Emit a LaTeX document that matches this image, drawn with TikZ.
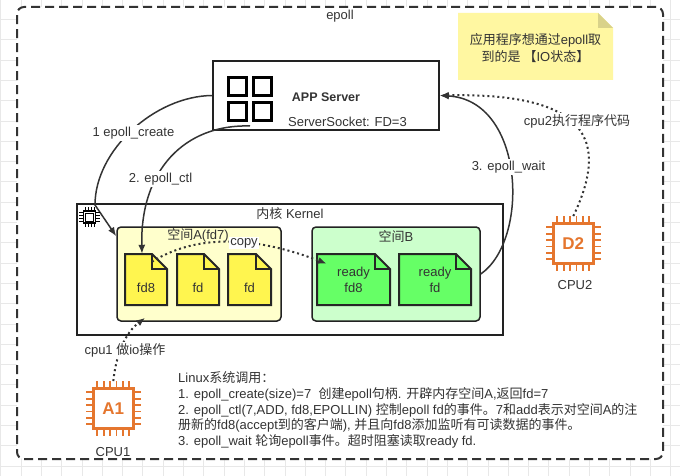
\documentclass[tikz,border=0pt]{standalone}
\usepackage{fontspec}
\setmainfont{Liberation Sans}
\newfontfamily\cjk{Noto Sans CJK SC}
\usetikzlibrary{arrows.meta}
\newcommand\zh[1]{{\cjk #1}}
\definecolor{txt}{HTML}{333333}
\definecolor{ln}{HTML}{333333}
\definecolor{boxline}{HTML}{222222}
\definecolor{docedge}{HTML}{262626}
\definecolor{notefill}{HTML}{FFF7A1}
\definecolor{notefold}{HTML}{D9D28A}
\definecolor{spAfill}{HTML}{FFFFCC}
\definecolor{spBfill}{HTML}{CCFFCC}
\definecolor{fdY}{HTML}{FFF54F}
\definecolor{fdG}{HTML}{66FF66}
\definecolor{aws}{HTML}{E5762E}
\definecolor{gridc}{HTML}{E8E8E8}
\tikzset{
  lbl/.style={font=\fontsize{13pt}{15.8pt}\selectfont, text=txt, inner sep=0pt},
  lblbg/.style={lbl, fill=white, inner sep=1.5pt},
  conn/.style={draw=ln, line width=1.5pt, -{Latex[length=9pt,width=7pt]}},
  dotconn/.style={draw=ln, line width=2pt, dash pattern=on 2pt off 3pt, -{Latex[length=9pt,width=7pt]}},
  spacebox/.style={draw=boxline, line width=1.5pt, rounded corners=4pt, inner sep=0pt},
  plainbox/.style={draw=boxline, line width=1.5pt, fill=white, inner sep=0pt},
  epollframe/.style={draw=ln, line width=2pt, dash pattern=on 9pt off 5pt, fill=white, rounded corners=7pt, inner sep=0pt},
  docline/.style={draw=docedge, line width=2pt, line join=miter},
  docbox/.style={inner sep=0pt, minimum height=51pt},
  chipbody/.style={draw=aws, line width=2.5pt, fill=white, minimum size=40pt, inner sep=0pt, text=aws, font=\fontsize{17pt}{19pt}\selectfont\bfseries},
  chippin/.style={draw=aws, line width=1.8pt},
  iconsq/.style={draw=black, line width=3pt},
}
\newcommand\fdoc[4]{%
  \filldraw[docline, fill=#4] (#2-#3/2,254) -- (#2+#3/2-15,254) -- (#2+#3/2,269) -- (#2+#3/2,305) -- (#2-#3/2,305) -- cycle;
  \draw[docline] (#2+#3/2-15,254) -- (#2+#3/2-15,269) -- (#2+#3/2,269);
  \node[docbox, minimum width=#3pt] (#1) at (#2,279.5) {};
}
\newcommand\awschip[4]{%
  \node[chipbody] (#1) at (#2,#3) {#4};
  \foreach \o in {-16,-9.6,-3.2,3.2,9.6,16}{
    \draw[chippin] ([xshift=\o pt]#1.north) -- ++(0,-6);
    \draw[chippin] ([xshift=\o pt]#1.south) -- ++(0,6);
    \draw[chippin] ([yshift=\o pt]#1.west) -- ++(-6,0);
    \draw[chippin] ([yshift=\o pt]#1.east) -- ++(6,0);
  }
}
\begin{document}
\begin{tikzpicture}[x=1pt,y=-1pt]
\useasboundingbox (0,0) rectangle (680,476);
\fill[white] (0,0) rectangle (680,476);
% background grid
\foreach \gx in {0.7,21,...,680} \draw[gridc, line width=0.7pt] (\gx,0) -- (\gx,476);
\foreach \gy in {-0.9,19.4,...,476} \draw[gridc, line width=0.7pt] (0,\gy) -- (680,\gy);
% outer epoll frame
\node[epollframe, minimum width=646pt, minimum height=452pt] (frame) at (340,233) {};
\node[lbl] (epolllbl) at (340,16) {epoll};
% sticky note
\fill[notefill] (458,13) -- (598,13) -- (613,28) -- (613,80) -- (458,80) -- cycle;
\fill[notefold] (598,13) -- (598,28) -- (613,28) -- cycle;
\node[lbl, font=\fontsize{13pt}{17pt}\selectfont, align=center] (note) at (535.5,48.5)
  {\zh{应用程序想通过}epoll\zh{取}\\\zh{到的是 【}IO\zh{状态】}};
% APP server
\node[plainbox, minimum width=226pt, minimum height=69pt] (app) at (326,95.5) {};
\draw[iconsq] (228.5,77.5) rectangle (246.5,95.5);
\draw[iconsq] (253.5,77.5) rectangle (271.5,95.5);
\draw[iconsq] (228.5,102.5) rectangle (246.5,120.5);
\draw[iconsq] (253.5,102.5) rectangle (271.5,120.5);
\node[lbl, font=\fontsize{12.5pt}{15pt}\selectfont\bfseries] (apptitle) at (326,97.5) {APP Server};
\node[lbl] (sock) at (347.5,121.5) {ServerSocket: FD=3};
% kernel
\node[plainbox, minimum width=426pt, minimum height=131pt] (kernel) at (290,269.5) {};
\node[lbl] (kernlbl) at (290,214) {\zh{内核} Kernel};
\node[spacebox, fill=spAfill, minimum width=164pt, minimum height=94pt] (spA) at (199,274) {};
\node[lbl] (spAlbl) at (198,235) {\zh{空间}A(fd7)};
\node[spacebox, fill=spBfill, minimum width=168pt, minimum height=94pt] (spB) at (396,274) {};
\node[lbl] (spBlbl) at (396,236.5) {\zh{空间}B};
% documents
\fdoc{fd8}{146}{42}{fdY}
\fdoc{fdb}{198}{42}{fdY}
\fdoc{fdc}{249.5}{43}{fdY}
\fdoc{rfd8}{353.5}{73}{fdG}
\fdoc{rfd}{435}{72}{fdG}
\node[lbl] (fd8t) at (146,288) {fd8};
\node[lbl] (fdbt) at (198,288) {fd};
\node[lbl] (fdct) at (249.5,288) {fd};
\node[lbl, align=center] (rfd8t) at (353.5,280) {ready\\fd8};
\node[lbl, align=center] (rfdt) at (435,280) {ready\\fd};
% CPUs
\awschip{a1}{113.3}{408.3}{A1}
\awschip{d2}{573.3}{243.3}{D2}
\node[lbl] (cpu1lbl) at (113,452) {CPU1};
\node[lbl] (cpu2lbl) at (575,285) {CPU2};
% connectors
\coordinate (c2) at (250,126);
\draw[conn] (app.west) .. controls (155,96) and (95,150) .. (95,205) -- ([yshift=-10pt]spA.north west);
\draw[conn] (c2) .. controls (185,124) and (140,170) .. ([xshift=-4pt]fd8.north);
\draw[conn] (spB.east) .. controls (530,240) and (525,100) .. (app.east);
\draw[dotconn] ([yshift=6pt]d2.north) .. controls (605,150) and (600,92) .. (app.east);
\draw[dotconn] ([xshift=6pt,yshift=-8pt]fd8.north) .. controls (200,232) and (260,238) .. ([xshift=10pt,yshift=-10pt]rfd8.north west);
\draw[dotconn] ([yshift=6pt]a1.north) .. controls (116,355) and (125,333) .. ([xshift=29pt,yshift=4pt]spA.south west);
% connector labels
\node[lblbg] (l1) at (133.5,133) {1 epoll\_create};
\node[lblbg] (l2) at (160.5,179) {2. epoll\_ctl};
\node[lblbg] (l3) at (508.5,167) {3. epoll\_wait};
\node[lblbg] (lcpu2) at (577,121) {cpu2\zh{执行程序代码}};
\node[lblbg] (lcpu1) at (125,350) {cpu1 \zh{做}io\zh{操作}};
\node[lblbg] (lcopy) at (244,243) {copy};
% kernel chip icon
\node[draw=black, line width=1.3pt, fill=white, minimum size=12pt, inner sep=0pt] (kchip) at (89.5,217) {};
\draw[black, line width=0.9pt] ([shift={(2.6,2.6)}]kchip.north west) rectangle ([shift={(-2.6,-2.6)}]kchip.south east);
\foreach \o in {-4.5,-1.5,1.5,4.5}{
  \draw[black, line width=0.8pt] ([xshift=\o pt]kchip.north) -- ++(0,-3.5);
  \draw[black, line width=0.8pt] ([xshift=\o pt]kchip.south) -- ++(0,3.5);
  \draw[black, line width=0.8pt] ([yshift=\o pt]kchip.west) -- ++(-3.5,0);
  \draw[black, line width=0.8pt] ([yshift=\o pt]kchip.east) -- ++(3.5,0);
}
% Linux system call text
\node[lbl, anchor=base west] (lin0) at (178,382.5) {Linux\zh{系统调用：}};
\node[lbl, anchor=base west] (lin1) at (178,398.25) {1. epoll\_create(size)=7\ \ \zh{创建}epoll\zh{句柄}. \zh{开辟内存空间}A,\zh{返回}fd=7};
\node[lbl, anchor=base west] (lin2) at (178,414) {2. epoll\_ctl(7,ADD, fd8,EPOLLIN) \zh{控制}epoll fd\zh{的事件。}7\zh{和}add\zh{表示对空间}A\zh{的注}};
\node[lbl, anchor=base west] (lin3) at (178,429.75) {\zh{册新的}fd8(accept\zh{到的客户端}), \zh{并且向}fd8\zh{添加监听有可读数据的事件。}};
\node[lbl, anchor=base west] (lin4) at (178,445.5) {3. epoll\_wait \zh{轮询}epoll\zh{事件。超时阻塞读取}ready fd.};
\end{tikzpicture}
\end{document}
